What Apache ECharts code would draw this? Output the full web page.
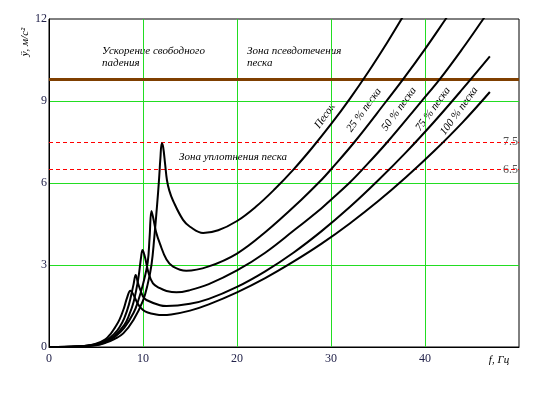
<!DOCTYPE html>
<html>
<head>
<meta charset="utf-8">
<script src="https://cdn.jsdelivr.net/npm/echarts@6/dist/echarts.min.js"></script>
<style>
  html, body { margin: 0; padding: 0; background: #fff; }
  #main { width: 539px; height: 399px; }
</style>
</head>
<body>
<div id="main"></div>
<script>
// частота, Гц и ускорение, м/с2 для каждой кривой
var freqSand = [0, 3, 5, 6, 7, 7.9, 9, 10, 10.5, 10.9, 11.2, 11.5, 11.7, 11.85, 12, 12.15, 12.35, 12.55, 12.8, 13.2, 14.26, 15, 16.4, 18, 20, 22, 24, 26, 28, 30, 32, 34, 36, 37.5, 38];
var accSand  = [0, 0.02, 0.06, 0.15, 0.3, 0.5, 1.0, 1.7, 2.3, 3.0, 4.0, 5.2, 6.1, 6.9, 7.45, 7.3, 6.7, 6.1, 5.72, 5.35, 4.65, 4.4, 4.17, 4.27, 4.61, 5.13, 5.77, 6.49, 7.29, 8.15, 9.08, 10.08, 11.15, 12.0, 12.3];

var freq25 = [0, 3, 5, 6, 7, 8, 9, 9.5, 10, 10.5, 10.7, 10.9, 11.1, 11.4, 11.78, 12.5, 13.2, 14.6, 17, 20, 23, 26.85, 29, 30, 32.5, 35.9, 37.7, 40, 42.2, 43];
var acc25  = [0, 0.02, 0.07, 0.17, 0.37, 0.7, 1.25, 1.7, 2.3, 3.1, 4.0, 4.98, 4.7, 4.2, 3.8, 3.2, 2.94, 2.79, 2.95, 3.42, 4.2, 5.39, 6.12, 6.5, 7.5, 9.0, 9.81, 10.9, 12.0, 12.4];

var freq50 = [0, 3, 5, 6, 7, 8, 8.5, 9, 9.5, 9.8, 9.95, 10.2, 10.6, 11.06, 11.8, 12.5, 13.55, 15, 17, 20, 23, 26, 29, 30, 32, 33.3, 36, 39.6, 41.6, 44, 46.2, 47];
var acc50  = [0, 0.02, 0.08, 0.2, 0.42, 0.8, 1.15, 1.65, 2.5, 3.3, 3.55, 3.3, 2.7, 2.33, 2.15, 2.05, 2.0, 2.08, 2.3, 2.8, 3.45, 4.25, 5.08, 5.39, 6.02, 6.48, 7.5, 8.98, 9.81, 10.92, 12.0, 12.4];

var freq75 = [0, 3, 5, 6, 7, 7.5, 8, 8.5, 9, 9.22, 9.5, 10, 10.36, 11.8, 12.5, 15, 17, 20, 23, 26, 29, 32, 35, 38, 41, 44, 46.9];
var acc75  = [0, 0.02, 0.1, 0.22, 0.5, 0.72, 1.05, 1.55, 2.3, 2.63, 2.3, 1.85, 1.72, 1.53, 1.5, 1.58, 1.76, 2.2, 2.77, 3.45, 4.24, 5.12, 6.09, 7.13, 8.25, 9.44, 10.63];

var freq100 = [0, 3, 4, 5, 6, 6.6, 7, 7.5, 8, 8.3, 8.66, 9, 9.5, 10, 10.5, 11.4, 12, 13, 15, 17, 20, 23, 26, 29, 32, 35, 38, 41, 44, 46.9];
var acc100  = [0, 0.02, 0.05, 0.12, 0.28, 0.5, 0.7, 1.0, 1.45, 1.8, 2.06, 1.9, 1.55, 1.35, 1.26, 1.19, 1.17, 1.19, 1.33, 1.56, 2.0, 2.52, 3.12, 3.78, 4.52, 5.33, 6.22, 7.18, 8.22, 9.33];

var gAcc = 9.81;          // ускорение свободного падения
var limitLines = [7.5, 6.5];
var xTicks = [0, 10, 20, 30, 40];
var yTicks = [0, 3, 6, 9, 12];

var serif = 'Liberation Serif';
var chart = echarts.init(document.getElementById('main'), null, { renderer: 'canvas' });

function pairs(xs, ys) {
  return xs.map(function (x, i) { return [x, ys[i]]; });
}

function curve(xs, ys) {
  return {
    type: 'line',
    data: pairs(xs, ys),
    showSymbol: false,
    smooth: 0.4,
    lineStyle: { color: '#000', width: 2 },
    silent: true,
    z: 5
  };
}

var series = [
  curve(freqSand, accSand),
  curve(freq25, acc25),
  curve(freq50, acc50),
  curve(freq75, acc75),
  curve(freq100, acc100)
];

series[0].markLine = {
  silent: true,
  symbol: 'none',
  animation: false,
  label: { show: false },
  data: [
    { yAxis: gAcc, lineStyle: { color: '#7f3f00', width: 3, type: 'solid' } },
    { yAxis: limitLines[0], lineStyle: { color: '#ff0000', width: 1, type: [4, 3] } },
    { yAxis: limitLines[1], lineStyle: { color: '#ff0000', width: 1, type: [4, 3] } }
  ]
};

function label(text, x, y, rot, align) {
  return {
    type: 'text',
    x: x, y: y,
    rotation: rot || 0,
    silent: true,
    style: {
      text: text,
      fill: '#000',
      font: 'italic 11px "Liberation Serif"',
      textAlign: align || 'left',
      textVerticalAlign: 'middle'
    }
  };
}

var tilt = 54 * Math.PI / 180;

chart.setOption({
  animation: false,
  grid: {
    left: 49, right: 20, top: 19, bottom: 52,
    show: true, borderColor: '#000', borderWidth: 1
  },
  xAxis: {
    type: 'value', min: 0, max: 50, interval: 10,
    axisLine: { show: true, lineStyle: { color: '#000', width: 1 } },
    axisTick: { show: false },
    splitLine: { show: true, showMinLine: false, showMaxLine: false, lineStyle: { color: '#22dd22', width: 1 } },
    axisLabel: {
      margin: 6, color: '#22224a', fontFamily: serif, fontSize: 12,
      formatter: function (v) { return xTicks.indexOf(v) >= 0 ? String(v) : ''; }
    }
  },
  yAxis: {
    type: 'value', min: 0, max: 12, interval: 3,
    axisLine: { show: true, lineStyle: { color: '#000', width: 1 } },
    axisTick: { show: false },
    splitLine: { show: true, showMinLine: false, showMaxLine: false, lineStyle: { color: '#22dd22', width: 1 } },
    axisLabel: {
      margin: 2, color: '#22224a', fontFamily: serif, fontSize: 12,
      formatter: function (v) { return yTicks.indexOf(v) >= 0 ? String(v) : ''; }
    }
  },
  series: series,
  graphic: [
    label('Ускорение свободного', 102, 51),
    label('падения', 102, 63),
    label('Зона псевдотечения', 247, 51),
    label('песка', 247, 63),
    label('Зона уплотнения песка', 179, 157),
    label('Песок', 325, 116, tilt, 'center'),
    label('25 % песка', 364, 110, tilt, 'center'),
    label('50 % песка', 399, 109, tilt, 'center'),
    label('75 % песка', 433, 109, tilt, 'center'),
    label('100 % песка', 459, 111, tilt, 'center'),
    {
      type: 'text', x: 25, y: 42, rotation: Math.PI / 2, silent: true,
      style: { text: 'ÿ, м/с²', fill: '#000', font: 'italic 11px "Liberation Serif"', textAlign: 'center', textVerticalAlign: 'middle' }
    },
    {
      type: 'text', x: 499, y: 360, silent: true,
      style: { text: 'f, Гц', fill: '#000', font: 'italic 11px "Liberation Serif"', textAlign: 'center', textVerticalAlign: 'middle' }
    },
    {
      type: 'text', x: 518, y: 142, silent: true,
      style: { text: '7.5', fill: '#555', font: '12px "Liberation Serif"', textAlign: 'right', textVerticalAlign: 'middle' }
    },
    {
      type: 'text', x: 518, y: 170, silent: true,
      style: { text: '6.5', fill: '#555', font: '12px "Liberation Serif"', textAlign: 'right', textVerticalAlign: 'middle' }
    }
  ]
});
</script>
</body>
</html>
